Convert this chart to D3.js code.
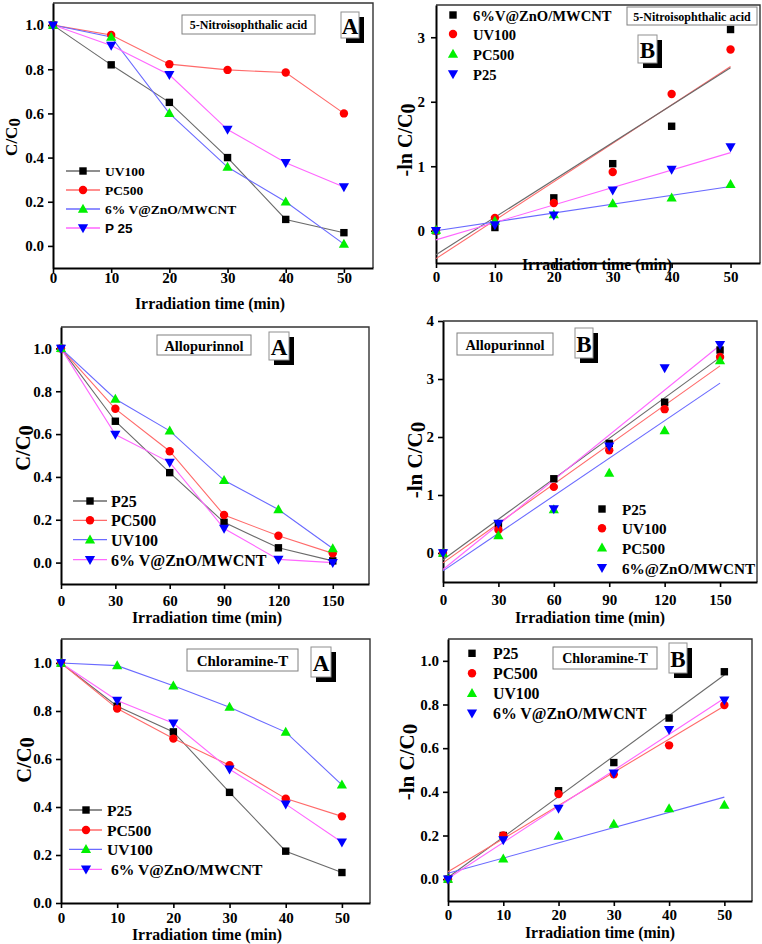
<!DOCTYPE html>
<html><head><meta charset="utf-8">
<script src="https://cdn.jsdelivr.net/npm/d3@7"></script>
<style>
body{margin:0;background:#fff}
svg{display:block}
text{font-family:"Liberation Serif","Times New Roman",serif;font-weight:bold;fill:#000;white-space:pre}
</style>
</head><body>
<svg id="chart" width="762" height="944"></svg>
<script>
// ---------------- DATA ----------------
const timeShort = [0, 10, 20, 30, 40, 50];
const timeLong = [0, 30, 60, 90, 120, 150];

const ticksShort = [0, 10, 20, 30, 40, 50];
const ticksLong = [0, 30, 60, 90, 120, 150];
const ticksFrac = [0, 0.2, 0.4, 0.6, 0.8, 1.0];
const ticksNitroB = [0, 1, 2, 3];
const ticksAlloB = [0, 1, 2, 3, 4];

// Panel 1: 5-Nitroisophthalic acid (C/C0)
const nitroANames = ["UV100", "PC500", "6% V@ZnO/MWCNT", "P 25"];
const nitroA_UV100 = [1.0, 0.82, 0.65, 0.40, 0.12, 0.06];
const nitroA_PC500 = [1.0, 0.955, 0.823, 0.797, 0.785, 0.60];
const nitroA_VZnO = [1.0, 0.946, 0.60, 0.357, 0.20, 0.008];
const nitroA_P25 = [1.0, 0.908, 0.775, 0.527, 0.377, 0.267];

// Panel 2: 5-Nitroisophthalic acid (-ln C/C0)
const nitroBNames = ["6%V@ZnO/MWCNT", "UV100", "PC500", "P25"];
const nitroB_VZnO = [0, 0.05, 0.51, 1.04, 1.62, 3.12];
const nitroB_UV100 = [0, 0.20, 0.43, 0.91, 2.12, 2.81];
const nitroB_PC500 = [0.01, 0.15, 0.25, 0.42, 0.51, 0.72];
const nitroB_P25 = [0, 0.09, 0.24, 0.63, 0.95, 1.30];

// Panel 3: Allopurinnol (C/C0)
const alloANames = ["P25", "PC500", "UV100", "6% V@ZnO/MWCNT"];
const alloA_P25 = [1.0, 0.66, 0.42, 0.188, 0.069, 0.008];
const alloA_PC500 = [1.0, 0.718, 0.52, 0.222, 0.125, 0.043];
const alloA_UV100 = [1.0, 0.764, 0.615, 0.384, 0.248, 0.066];
const alloA_VZnO = [1.0, 0.598, 0.468, 0.159, 0.015, 0.0];

// Panel 4: Allopurinnol (-ln C/C0)
const alloBNames = ["P25", "UV100", "PC500", "6%@ZnO/MWCNT"];
const alloB_P25 = [0, 0.50, 1.28, 1.89, 2.60, 3.50];
const alloB_UV100 = [0, 0.40, 1.14, 1.77, 2.48, 3.38];
const alloB_PC500 = [0, 0.30, 0.75, 1.38, 2.11, 3.32];
const alloB_VZnO = [0, 0.51, 0.76, 1.84, 3.19, 3.59];

// Panel 5: Chloramine-T (C/C0)
const chloroANames = ["P25", "PC500", "UV100", " 6% V@ZnO/MWCNT"];
const chloroA_P25 = [1.0, 0.82, 0.713, 0.461, 0.216, 0.127];
const chloroA_PC500 = [1.0, 0.81, 0.685, 0.574, 0.435, 0.361];
const chloroA_UV100 = [1.0, 0.989, 0.905, 0.816, 0.712, 0.492];
const chloroA_VZnO = [1.0, 0.844, 0.749, 0.557, 0.412, 0.253];

// Panel 6: Chloramine-T (-ln C/C0)
const chloroBNames = ["P25", "PC500", "UV100", "6% V@ZnO/MWCNT"];
const chloroB_P25 = [0, 0.20, 0.405, 0.534, 0.738, 0.95];
const chloroB_PC500 = [0, 0.20, 0.39, 0.48, 0.613, 0.798];
const chloroB_UV100 = [0, 0.093, 0.198, 0.253, 0.324, 0.339];
const chloroB_VZnO = [0, 0.18, 0.324, 0.485, 0.685, 0.82];

// ---------------- STYLE ----------------
const MK = {sq: {shape: "square", fill: "#000000"}, ci: {shape: "circle", fill: "#ff0000"},
            up: {shape: "up", fill: "#00f000"}, dn: {shape: "down", fill: "#0000ff"}};
const LC = {gray: "#6a6a6a", red: "#ff6a6a", blue: "#6a6aff", mag: "#ff66ff"};

const svg = d3.select("#chart");

function marker(g, shape, cx, cy, fill) {
  if (shape === "square") {
    g.append("rect").attr("x", cx - 3.7).attr("y", cy - 3.7).attr("width", 7.4).attr("height", 7.4).attr("fill", fill);
  } else if (shape === "circle") {
    g.append("circle").attr("cx", cx).attr("cy", cy).attr("r", 4.2).attr("fill", fill);
  } else if (shape === "up") {
    g.append("path").attr("d", `M${cx},${cy - 5.3}L${cx + 5.1},${cy + 3.7}L${cx - 5.1},${cy + 3.7}Z`).attr("fill", fill);
  } else {
    g.append("path").attr("d", `M${cx},${cy + 5.3}L${cx + 5.1},${cy - 3.7}L${cx - 5.1},${cy - 3.7}Z`).attr("fill", fill);
  }
}

function linfit(xs, ys) {
  const n = xs.length, mx = d3.mean(xs), my = d3.mean(ys);
  let sxy = 0, sxx = 0;
  for (let i = 0; i < n; i++) { sxy += (xs[i] - mx) * (ys[i] - my); sxx += (xs[i] - mx) ** 2; }
  const b = sxy / sxx; return {a: my - b * mx, b};
}

function panel(c) {
  const g = svg.append("g");
  const x = d3.scaleLinear().domain(c.xDomain).range([c.left, c.right]);
  const y = d3.scaleLinear().domain(c.yDomain).range([c.bottom, c.top]);

  // frame (top & right)
  g.append("path").attr("d", `M${c.left},${c.top}H${c.right}V${c.bottom}`)
    .attr("fill", "none").attr("stroke", "#333").attr("stroke-width", 1.4);

  const xa = g.append("g").attr("transform", `translate(0,${c.bottom})`)
    .call(d3.axisBottom(x).tickValues(c.xTicks).tickSize(5).tickSizeOuter(0).tickPadding(c.xPad).tickFormat(d3.format("d")));
  const ya = g.append("g").attr("transform", `translate(${c.left},0)`)
    .call(d3.axisLeft(y).tickValues(c.yTicks).tickSize(5).tickSizeOuter(0).tickPadding(c.yPad).tickFormat(d3.format(c.yFmt)));
  [xa, ya].forEach(a => {
    a.attr("font-family", null).attr("font-size", null);
    a.select(".domain").attr("stroke", "#000").attr("stroke-width", 2);
    a.selectAll(".tick line").attr("stroke", "#000").attr("stroke-width", 1.6);
    a.selectAll(".tick text").attr("font-size", 15);
  });

  // axis titles
  g.append("text").attr("x", c.xTitle[0]).attr("y", c.xTitle[1]).attr("text-anchor", "middle")
    .attr("dominant-baseline", "central").attr("font-size", 15.8).text("Irradiation time (min)");
  const yt = g.append("text").attr("transform", `translate(${c.yTitle[0]},${c.yTitle[1]}) rotate(-90)`)
    .attr("text-anchor", "middle").attr("dominant-baseline", "central").attr("font-size", c.yTitleSize);
  yt.append("tspan").text(c.yLabel);
  yt.append("tspan").attr("dy", 3).text("0");

  // series
  c.series.forEach(s => {
    if (c.mode === "connect") {
      g.append("path").datum(s.values)
        .attr("d", d3.line().x((d, i) => x(c.xs[i])).y(d => y(d)))
        .attr("fill", "none").attr("stroke", s.line).attr("stroke-width", 1.1);
    } else {
      const f = linfit(c.xs, s.values);
      const x0 = c.xs[0], x1 = c.xs[c.xs.length - 1];
      g.append("line").attr("x1", x(x0)).attr("y1", y(f.a + f.b * x0))
        .attr("x2", x(x1)).attr("y2", y(f.a + f.b * x1))
        .attr("stroke", s.line).attr("stroke-width", 1.1);
    }
  });
  c.series.forEach(s => {
    s.values.forEach((v, i) => marker(g, s.mk.shape, x(c.xs[i]), y(v), s.mk.fill));
  });

  // legend
  c.series.forEach((s, i) => {
    const ly = c.leg.y[i];
    if (c.leg.line) {
      g.append("line").attr("x1", c.leg.line[0]).attr("x2", c.leg.line[1]).attr("y1", ly).attr("y2", ly)
        .attr("stroke", s.line).attr("stroke-width", 1.3);
    }
    marker(g, s.mk.shape, c.leg.mx, ly, s.mk.fill);
    const t = g.append("text").attr("x", c.leg.tx).attr("y", ly + 0.5).attr("dominant-baseline", "central")
      .attr("font-size", c.leg.size).text(s.name);
    if (s.sans) t.style("font-family", '"Liberation Sans", Arial, sans-serif');
  });

  // title box
  const tb = c.tbox;
  g.append("rect").attr("x", tb[0]).attr("y", tb[1]).attr("width", tb[2] - tb[0]).attr("height", tb[3] - tb[1])
    .attr("fill", "#fff").attr("stroke", "#808080").attr("stroke-width", 1);
  g.append("text").attr("x", (tb[0] + tb[2]) / 2).attr("y", (tb[1] + tb[3]) / 2 + 0.5).attr("text-anchor", "middle")
    .attr("dominant-baseline", "central").attr("font-size", c.tboxSize).text(c.title);

  // letter box with shadow
  const lb = c.lbox;
  g.append("rect").attr("x", lb[0] + 5).attr("y", lb[1] + 5).attr("width", lb[2] - lb[0]).attr("height", lb[3] - lb[1]).attr("fill", "#000");
  g.append("rect").attr("x", lb[0]).attr("y", lb[1]).attr("width", lb[2] - lb[0]).attr("height", lb[3] - lb[1])
    .attr("fill", "#fff").attr("stroke", "#909090").attr("stroke-width", 1);
  g.append("text").attr("x", (lb[0] + lb[2]) / 2).attr("y", (lb[1] + lb[3]) / 2 + 1).attr("text-anchor", "middle")
    .attr("dominant-baseline", "central").attr("font-size", 23).text(c.letter);
}

// ---------------- PANELS ----------------
panel({
  left: 53, right: 373, top: 3, bottom: 268, xDomain: [0, 55], yDomain: [-0.1, 1.1],
  xTicks: ticksShort, yTicks: ticksFrac, yFmt: ".1f", xPad: -0.5, yPad: 4, xs: timeShort,
  xTitle: [210, 303], yTitle: [11, 137], yLabel: "C/C", yTitleSize: 17, mode: "connect",
  series: [
    {name: nitroANames[0], values: nitroA_UV100, mk: MK.sq, line: LC.gray},
    {name: nitroANames[1], values: nitroA_PC500, mk: MK.ci, line: LC.red},
    {name: nitroANames[2], values: nitroA_VZnO, mk: MK.up, line: LC.blue},
    {name: nitroANames[3], values: nitroA_P25, mk: MK.dn, line: LC.mag, sans: true}
  ],
  leg: {y: [171, 190, 209, 228], line: [66, 100], mx: 83, tx: 105, size: 13.5},
  title: "5-Nitroisophthalic acid", tbox: [182, 15, 315, 34], tboxSize: 12,
  letter: "A", lbox: [341, 12, 359, 38]
});

panel({
  left: 436, right: 760, top: 5, bottom: 263, xDomain: [0, 55], yDomain: [-0.5, 3.5],
  xTicks: ticksShort, yTicks: ticksNitroB, yFmt: "d", xPad: 3, yPad: 6, xs: timeShort,
  xTitle: [597, 264], yTitle: [405, 140], yLabel: "-ln C/C", yTitleSize: 20, mode: "fit",
  series: [
    {name: nitroBNames[0], values: nitroB_VZnO, mk: MK.sq, line: LC.red},
    {name: nitroBNames[1], values: nitroB_UV100, mk: MK.ci, line: LC.gray},
    {name: nitroBNames[2], values: nitroB_PC500, mk: MK.up, line: LC.blue},
    {name: nitroBNames[3], values: nitroB_P25, mk: MK.dn, line: LC.mag}
  ],
  leg: {y: [15, 34, 54, 74], line: null, mx: 453, tx: 473, size: 14.6},
  title: "5-Nitroisophthalic acid", tbox: [627, 7, 757, 25], tboxSize: 12,
  letter: "B", lbox: [638, 35, 657, 63]
});

panel({
  left: 61, right: 369, top: 327, bottom: 584, xDomain: [0, 170], yDomain: [-0.1, 1.1],
  xTicks: ticksLong, yTicks: ticksFrac, yFmt: ".1f", xPad: 6.5, yPad: 4, xs: timeLong,
  xTitle: [207, 617.5], yTitle: [23, 448], yLabel: "C/C", yTitleSize: 20.5, mode: "connect",
  series: [
    {name: alloANames[0], values: alloA_P25, mk: MK.sq, line: LC.gray},
    {name: alloANames[1], values: alloA_PC500, mk: MK.ci, line: LC.red},
    {name: alloANames[2], values: alloA_UV100, mk: MK.up, line: LC.blue},
    {name: alloANames[3], values: alloA_VZnO, mk: MK.dn, line: LC.mag}
  ],
  leg: {y: [501, 520.3, 539.7, 559.7], line: [73, 107], mx: 90, tx: 111, size: 16},
  title: "Allopurinnol", tbox: [157, 335, 251, 355], tboxSize: 14.4,
  letter: "A", lbox: [269, 332, 289, 360]
});

panel({
  left: 443, right: 757, top: 321, bottom: 582, xDomain: [0, 170], yDomain: [-0.5, 4],
  xTicks: ticksLong, yTicks: ticksAlloB, yFmt: "d", xPad: 7.5, yPad: 4, xs: timeLong,
  xTitle: [590, 617.5], yTitle: [415, 460], yLabel: "-ln C/C", yTitleSize: 21, mode: "fit",
  series: [
    {name: alloBNames[0], values: alloB_P25, mk: MK.sq, line: LC.gray},
    {name: alloBNames[1], values: alloB_UV100, mk: MK.ci, line: LC.red},
    {name: alloBNames[2], values: alloB_PC500, mk: MK.up, line: LC.blue},
    {name: alloBNames[3], values: alloB_VZnO, mk: MK.dn, line: LC.mag}
  ],
  leg: {y: [509, 528.3, 547.7, 567.7], line: null, mx: 602, tx: 622, size: 15.2},
  title: "Allopurinnol", tbox: [457, 333, 553, 355], tboxSize: 14.4,
  letter: "B", lbox: [575, 328, 593, 358]
});

panel({
  left: 61, right: 370, top: 639, bottom: 903, xDomain: [0, 55], yDomain: [0, 1.1],
  xTicks: ticksShort, yTicks: ticksFrac, yFmt: ".1f", xPad: 4, yPad: 4, xs: timeShort,
  xTitle: [207, 934], yTitle: [24, 760], yLabel: "C/C", yTitleSize: 20.5, mode: "connect",
  series: [
    {name: chloroANames[0], values: chloroA_P25, mk: MK.sq, line: LC.gray},
    {name: chloroANames[1], values: chloroA_PC500, mk: MK.ci, line: LC.red},
    {name: chloroANames[2], values: chloroA_UV100, mk: MK.up, line: LC.blue},
    {name: chloroANames[3], values: chloroA_VZnO, mk: MK.dn, line: LC.mag}
  ],
  leg: {y: [810, 830, 849.3, 869.3], line: [69, 102], mx: 86, tx: 107, size: 15.6},
  title: "Chloramine-T", tbox: [187, 649, 298, 671], tboxSize: 15,
  letter: "A", lbox: [311, 647, 331, 677]
});

panel({
  left: 448, right: 752, top: 639, bottom: 901, xDomain: [0, 55], yDomain: [-0.1, 1.1],
  xTicks: ticksShort, yTicks: ticksFrac, yFmt: ".1f", xPad: 3, yPad: 4, xs: timeShort,
  xTitle: [600, 932], yTitle: [407, 762], yLabel: "-ln C/C", yTitleSize: 21, mode: "fit",
  series: [
    {name: chloroBNames[0], values: chloroB_P25, mk: MK.sq, line: LC.gray},
    {name: chloroBNames[1], values: chloroB_PC500, mk: MK.ci, line: LC.red},
    {name: chloroBNames[2], values: chloroB_UV100, mk: MK.up, line: LC.blue},
    {name: chloroBNames[3], values: chloroB_VZnO, mk: MK.dn, line: LC.mag}
  ],
  leg: {y: [653.3, 673.3, 693.3, 713.3], line: null, mx: 472, tx: 493, size: 15.8},
  title: "Chloramine-T", tbox: [553, 647, 657, 669], tboxSize: 14,
  letter: "B", lbox: [669, 643, 687, 673]
});
</script>
</body></html>
